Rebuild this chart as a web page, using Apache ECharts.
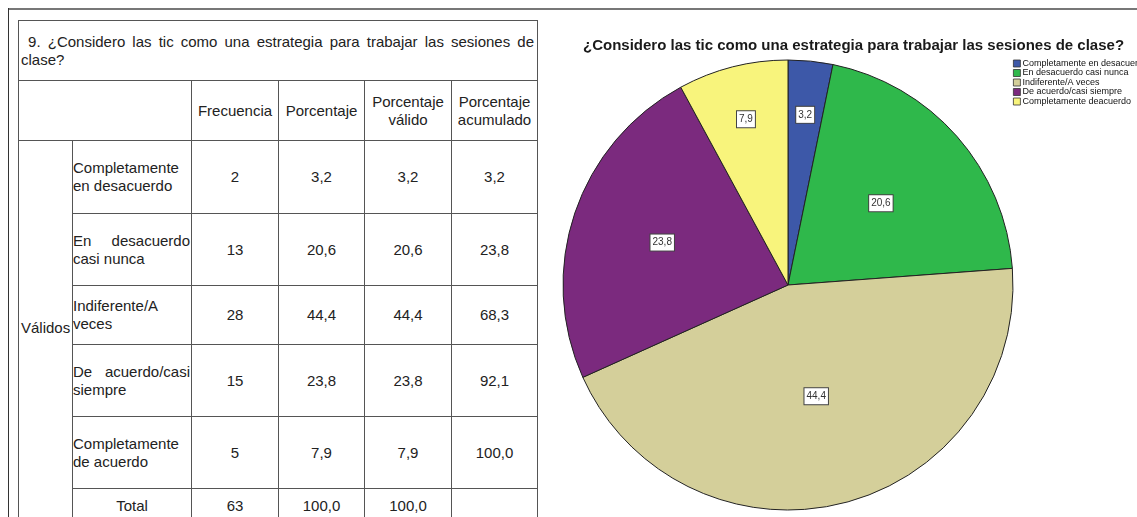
<!DOCTYPE html>
<html>
<head>
<meta charset="utf-8">
<title>Considero las tic</title>
<script src="https://cdn.jsdelivr.net/npm/echarts@6/dist/echarts.min.js"></script>
<style>
    html, body {
        margin: 0;
        padding: 0;
        background: #fff;
    }
    #page {
        position: relative;
        width: 1137px;
        height: 517px;
        overflow: hidden;
        font-family: 'Liberation Sans', Arial, sans-serif;
        color: #222;
    }
    #frame_top {
        position: absolute;
        left: 8px;
        top: 8px;
        width: 1129px;
        height: 0;
        border-top: 2px solid #777;
    }
    #frame_left {
        position: absolute;
        left: 8px;
        top: 8px;
        width: 0;
        height: 509px;
        border-left: 1px solid #333;
    }
    #freq_table {
        position: absolute;
        left: 18px;
        top: 20px;
        border-collapse: collapse;
        table-layout: fixed;
        font-size: 15px;
        line-height: 18px;
    }
    #freq_table td {
        border: 1px solid #555;
        padding: 0 1px;
        overflow: visible;
        white-space: normal;
    }
    #freq_table .title {
        padding: 0 3px 0 2px;
    }
    #freq_table .title .first {
        text-align: justify;
        text-align-last: justify;
    }
    #freq_table .head {
        text-align: center;
    }
    #freq_table .cat {
        text-align: justify;
        text-align-last: left;
        padding-left: 0;
    }
    #freq_table .num {
        text-align: center;
    }
    #freq_table .group {
        vertical-align: top;
        padding: 178px 0 0 2px;
        white-space: nowrap;
    }
    #pie_basic {
        position: absolute;
        left: 0;
        top: 0;
        width: 1137px;
        height: 517px;
    }
</style>
</head>
<body>
<div id="page">
    <div id="frame_top"></div>
    <div id="frame_left"></div>
    <table id="freq_table"></table>
    <div id="pie_basic"></div>
</div>

<script>
// ------------------------------
// Data
// ------------------------------

var tableTitle = '9. ¿Considero las tic como una estrategia para trabajar las sesiones de clase?';
var headers = ['Frecuencia', 'Porcentaje', 'Porcentaje válido', 'Porcentaje acumulado'];
var groupLabel = 'Válidos';
var rowLabels = ['Completamente en desacuerdo', 'En desacuerdo casi nunca', 'Indiferente/A veces', 'De acuerdo/casi siempre', 'Completamente de acuerdo'];
var frecuencia = [2, 13, 28, 15, 5];
var porcentaje = ['3,2', '20,6', '44,4', '23,8', '7,9'];
var porcentajeValido = ['3,2', '20,6', '44,4', '23,8', '7,9'];
var porcentajeAcumulado = ['3,2', '23,8', '68,3', '92,1', '100,0'];
var totalRow = ['Total', '63', '100,0', '100,0', ''];

var chartTitle = '¿Considero las tic como una estrategia para trabajar las sesiones de clase?';
var categories = ['Completamente en desacuerdo', 'En desacuerdo casi nunca', 'Indiferente/A veces', 'De acuerdo/casi siempre', 'Completamente deacuerdo'];
var pieValues = [3.2, 20.6, 44.4, 23.8, 7.9];


// ------------------------------
// Frequency table (left)
// ------------------------------

var buildTable = function() {
    var table = document.getElementById('freq_table');
    var colWidths = [54, 119, 87, 86, 87, 86];
    var rowHeights = [73, 72, 59, 72, 72];
    var html = '<colgroup>';
    colWidths.forEach(function(w) { html += '<col style="width:' + w + 'px">'; });
    html += '</colgroup>';

    // title row: last word goes on the second line, first line justified
    var cut = tableTitle.lastIndexOf(' ');
    html += '<tr style="height:60px"><td class="title" colspan="6">' +
        '<div class="first">&nbsp;' + tableTitle.slice(0, cut) + '</div>' +
        '<div>' + tableTitle.slice(cut + 1) + '</div></td></tr>';

    // header row
    html += '<tr style="height:60px"><td colspan="2"></td>';
    headers.forEach(function(h) {
        html += '<td class="head">' + h.replace(' ', '<br>') + '</td>';
    });
    html += '</tr>';

    // body rows
    rowLabels.forEach(function(label, i) {
        html += '<tr style="height:' + rowHeights[i] + 'px">';
        if (i === 0) {
            html += '<td class="group" rowspan="6">' + groupLabel + '</td>';
        }
        html += '<td class="cat">' + label + '</td>';
        html += '<td class="num">' + frecuencia[i] + '</td>';
        html += '<td class="num">' + porcentaje[i] + '</td>';
        html += '<td class="num">' + porcentajeValido[i] + '</td>';
        html += '<td class="num">' + porcentajeAcumulado[i] + '</td>';
        html += '</tr>';
    });

    // total row
    html += '<tr style="height:34px">';
    totalRow.forEach(function(v) {
        html += '<td class="num">' + v + '</td>';
    });
    html += '</tr>';

    table.innerHTML = html;
};


// ------------------------------
// Pie chart (right)
// ------------------------------

var EchartsPieTic = function() {

    var _pieTic = function() {
        if (typeof echarts == 'undefined') {
            console.warn('Warning - echarts.min.js is not loaded.');
            return;
        }

        var pie_element = document.getElementById('pie_basic');
        if (!pie_element) return;

        var pie_chart = echarts.init(pie_element, null, { renderer: 'canvas' });

        var center = [788, 285];
        var radius = 225;
        // how far out (fraction of radius) each value box sits
        var labelReach = [0.76, 0.55, 0.51, 0.59, 0.76];

        // mid angle of every slice, clockwise from 12 o'clock
        var total = pieValues.reduce(function(a, b) { return a + b; }, 0);
        var running = 0;
        var midAngles = pieValues.map(function(v) {
            var mid = (running + v / 2) / total * Math.PI * 2;
            running += v;
            return mid;
        });

        pie_chart.setOption({
            animation: false,

            color: ['#3d58a8', '#2fb84b', '#d4cf9a', '#7b2a7e', '#f8f47c'],

            textStyle: {
                fontFamily: "'Liberation Sans', Arial, sans-serif"
            },

            title: {
                text: chartTitle,
                left: 583,
                top: 38,
                padding: 0,
                textStyle: {
                    fontSize: 15,
                    fontWeight: 'bold',
                    color: '#1a1a1a'
                }
            },

            legend: {
                orient: 'vertical',
                left: 1013,
                top: 59,
                padding: 0,
                itemWidth: 7,
                itemHeight: 7,
                itemGap: 0.5,
                icon: 'rect',
                data: categories,
                textStyle: {
                    fontSize: 9,
                    lineHeight: 7.5,
                    color: '#111',
                    padding: [0, 0, 0, -3]
                },
                itemStyle: {
                    borderColor: '#333',
                    borderWidth: 0.8
                }
            },

            series: [{
                name: 'Considero las tic',
                type: 'pie',
                radius: radius,
                center: center,
                startAngle: 90,
                clockwise: true,
                avoidLabelOverlap: false,
                emphasis: { disabled: true },
                itemStyle: {
                    borderColor: '#222',
                    borderWidth: 1
                },
                label: {
                    show: true,
                    position: 'inside',
                    formatter: function(p) {
                        return String(p.value).replace('.', ',');
                    },
                    fontSize: 10,
                    color: '#333',
                    backgroundColor: '#fff',
                    borderColor: '#444',
                    borderWidth: 1,
                    padding: [3, 2, 3, 2]
                },
                labelLine: { show: false },
                labelLayout: function(params) {
                    var i = params.dataIndex;
                    var r = radius * labelReach[i];
                    return {
                        x: center[0] + r * Math.sin(midAngles[i]),
                        y: center[1] - r * Math.cos(midAngles[i]),
                        align: 'center',
                        verticalAlign: 'middle'
                    };
                },
                data: categories.map(function(name, i) {
                    return { name: name, value: pieValues[i] };
                })
            }]
        });
    };

    return {
        init: function() {
            _pieTic();
        }
    };
}();


document.addEventListener('DOMContentLoaded', function() {
    buildTable();
    EchartsPieTic.init();
});
</script>
</body>
</html>
